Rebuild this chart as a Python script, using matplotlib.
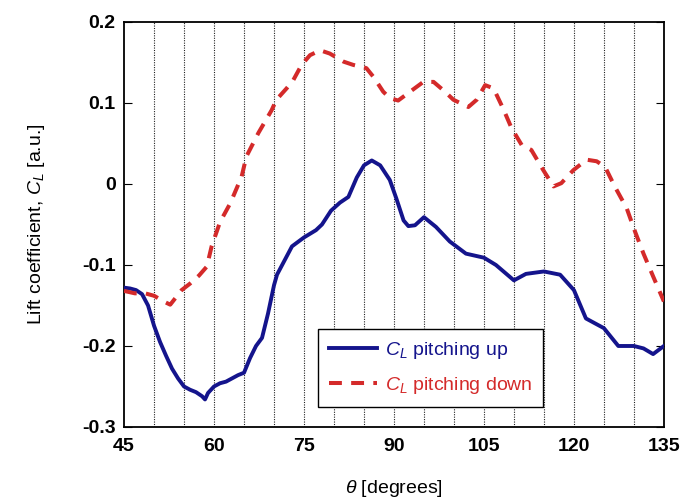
import matplotlib
matplotlib.use("Agg")
import matplotlib.pyplot as plt

plt.rcParams['font.family'] = ['Liberation Sans', 'DejaVu Sans']
plt.rcParams['mathtext.fontset'] = 'custom'
plt.rcParams['mathtext.rm'] = 'Liberation Sans'
plt.rcParams['mathtext.it'] = 'Liberation Sans:italic'
plt.rcParams['mathtext.bf'] = 'Liberation Sans:bold'

# Pitching up (blue)
theta_up = [45, 46, 47, 48, 49, 50, 51, 52, 53, 54, 55, 56, 57, 58, 58.5, 59, 60,
            61, 62, 63, 64, 65, 66, 67, 68, 69, 70, 70.5, 71.5, 73, 75, 77, 78,
            79.5, 81, 82.4, 83.8, 85, 86.3, 87.7, 89.3, 90.4, 91.6, 92.4, 93.5,
            95, 97, 99.3, 102, 105, 107, 110, 112, 115, 117.7, 120, 122, 125,
            127.4, 130, 131.6, 133.2, 135]
cl_up = [-0.128, -0.129, -0.131, -0.136, -0.150, -0.175, -0.195, -0.212, -0.228,
         -0.240, -0.250, -0.254, -0.257, -0.262, -0.266, -0.258, -0.250,
         -0.246, -0.244, -0.240, -0.236, -0.233, -0.215, -0.200, -0.190,
         -0.160, -0.125, -0.112, -0.098, -0.077, -0.066, -0.057, -0.050,
         -0.033, -0.023, -0.016, 0.008, 0.023, 0.029, 0.023, 0.005, -0.018,
         -0.045, -0.052, -0.051, -0.041, -0.053, -0.071, -0.086, -0.091,
         -0.100, -0.119, -0.111, -0.108, -0.112, -0.131, -0.166, -0.178,
         -0.200, -0.200, -0.203, -0.210, -0.200]

# Pitching down (red)
theta_down = [45, 46.8, 48.5, 50, 51.6, 52.7, 54.6, 56, 57.5, 58.8, 59.6, 61,
              62.7, 64.6, 65.4, 67.4, 69.6, 70.4, 72.1, 73.2, 74.6, 76, 77.7,
              79.3, 81.6, 83.2, 85.4, 86.6, 88.2, 89.3, 90.7, 92.7, 94.9, 96.6,
              98.5, 99.9, 102.4, 103.8, 105.2, 106.6, 108.2, 109.6, 111.3,
              112.9, 114.9, 116.6, 117.9, 119.9, 122.1, 123.8, 125.2, 126.8,
              128.8, 130.2, 131.6, 133.2, 135]
cl_down = [-0.132, -0.135, -0.135, -0.138, -0.145, -0.149, -0.131, -0.123,
           -0.113, -0.102, -0.077, -0.047, -0.024, 0.009, 0.034, 0.063, 0.091,
           0.104, 0.118, 0.128, 0.147, 0.159, 0.165, 0.161, 0.151, 0.147,
           0.143, 0.132, 0.114, 0.106, 0.103, 0.114, 0.126, 0.126, 0.114,
           0.104, 0.095, 0.104, 0.122, 0.118, 0.093, 0.069, 0.048, 0.042,
           0.017, -0.003, 0.001, 0.017, 0.030, 0.028, 0.021, -0.003, -0.030,
           -0.059, -0.086, -0.114, -0.145]

xticks = [45, 60, 75, 90, 105, 120, 135]
xtick_labels = ['45', '60', '75', '90', '105', '120', '135']
yticks = [-0.3, -0.2, -0.1, 0.0, 0.1, 0.2]
ytick_labels = ['-0.3', '-0.2', '-0.1', '0', '0.1', '0.2']
grid_x = list(range(50, 135, 5))

fig = plt.figure(figsize=(6.93, 4.99), dpi=100)
ax = fig.add_axes([0.179, 0.1443, 0.779, 0.8117])

for gx in grid_x:
    ax.axvline(gx, color='#222222', linestyle=(0, (1, 1.2)), linewidth=0.8, zorder=1)

blue = '#14148c'
red = '#d42a2a'
ax.plot(theta_up, cl_up, color=blue, linewidth=2.8, zorder=3,
        solid_joinstyle='round', label=r'$C_L$ pitching up')
ax.plot(theta_down, cl_down, color=red, linewidth=2.9, zorder=3,
        linestyle=(0, (3.2, 2.3)), label=r'$C_L$ pitching down')

ax.set_xlim(45, 135)
ax.set_ylim(-0.3, 0.2)
ax.set_xticks(xticks)
ax.set_xticklabels(xtick_labels, fontsize=14, fontweight='bold')
ax.set_yticks(yticks)
ax.set_yticklabels(ytick_labels, fontsize=14, fontweight='bold')
ax.tick_params(axis='x', length=0, pad=8)
ax.tick_params(axis='y', direction='in', length=6, width=0.8, right=True, pad=6)

for sp in ax.spines.values():
    sp.set_linewidth(1.3)

ax.set_ylabel(r'Lift coefficient, $C_L$ [a.u.]', fontsize=14)
ax.yaxis.set_label_coords(-0.142, 0.5)
ax.set_xlabel(r'$\theta$ [degrees]', fontsize=14)
ax.xaxis.set_label_coords(0.5, -0.125)

leg = ax.legend(loc='lower left', bbox_to_anchor=(0.359, 0.05), fontsize=14,
                frameon=True, fancybox=False, framealpha=1, edgecolor='black',
                handlelength=2.5, handletextpad=0.4, borderpad=0.55,
                labelspacing=0.72, borderaxespad=0)
leg.get_frame().set_linewidth(1.0)
for txt, col in zip(leg.get_texts(), [blue, red]):
    txt.set_color(col)

fig.savefig('out.png', dpi=100)
